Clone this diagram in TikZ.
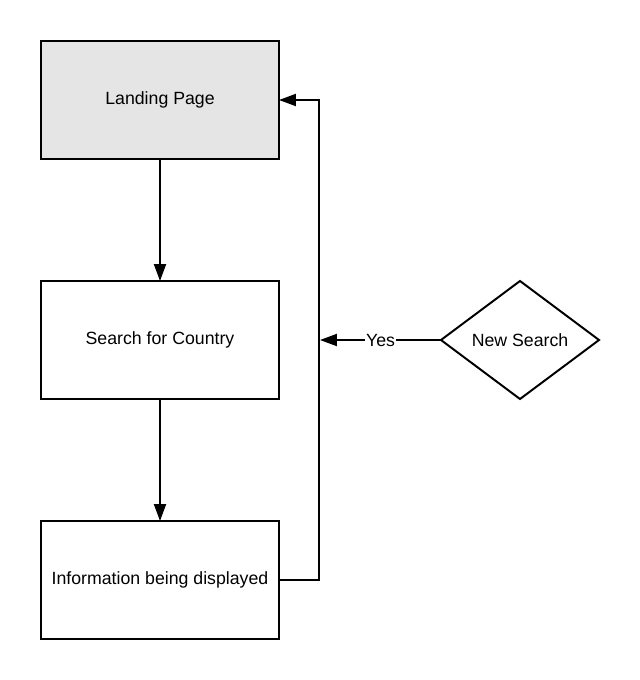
\documentclass[tikz,border=0pt]{standalone}
\usepackage{fontspec}
\setmainfont{Liberation Sans}
\usetikzlibrary{arrows.meta,shapes.geometric}
\definecolor{pagegray}{HTML}{E5E5E5}

\begin{document}
\begin{tikzpicture}[every node/.style={font=\fontsize{12.6}{15}\selectfont, outer sep=0pt},
  box/.style={draw, line width=1.4pt, minimum width=6cm-1.4pt, minimum height=3cm-1.4pt},
  choice/.style={draw, diamond, line width=1.4pt, aspect=1.3333, inner sep=0pt, minimum width=4cm-1.4pt, minimum height=3cm-1.4pt},
  link/.style={line width=1.4pt, -{Triangle[length=12pt,width=8.5pt]}}]
\useasboundingbox (0,0) rectangle (16,-17);
\node[box, fill=pagegray] (land) at (4,-2.5) {Landing Page};
\node[box] (search) at (4,-8.5) {Search for Country};
\node[box] (info) at (4,-14.5) {Information being displayed};
\node[choice] (new) at (13,-8.5) {New Search};
\coordinate (join) at (8,-8.5);

\draw[link] (land) -- (search);
\draw[link] (search) -- (info);
\draw[link] (info.east) -- ++(1,0) |- (land.east);
\draw[link] (new.west) -- node[fill=white, inner sep=1pt] {Yes} (join);
\end{tikzpicture}
\end{document}
